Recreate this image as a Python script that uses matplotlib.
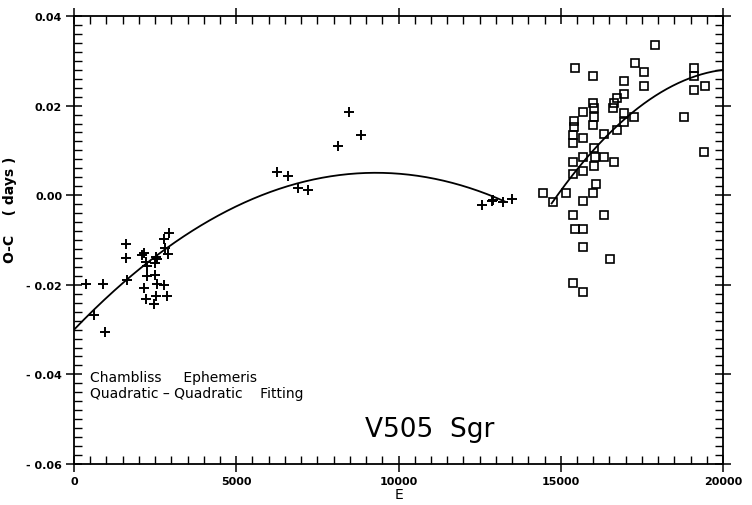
import numpy as np
import matplotlib
matplotlib.use("Agg")
import matplotlib.pyplot as plt
from matplotlib.ticker import MultipleLocator

# ---- data ----
cross_E = [370, 884, 955, 616, 1602, 1602, 1623, 2085, 2157, 2219, 2260, 2240, 2157, 2219,
           2527, 2567, 2506, 2506, 2567, 2527, 2465, 2773, 2918, 2804, 2906, 2783, 2856,
           6266, 6605, 6913, 7221, 8146, 8485, 8844, 12564, 12871, 12923, 13210, 13488]
cross_oc = [-0.0199, -0.0199, -0.0306, -0.0268, -0.0109, -0.0141, -0.0190, -0.0134, -0.0130,
            -0.0149, -0.0158, -0.0180, -0.0208, -0.0232, -0.0137, -0.0143, -0.0152, -0.0179,
            -0.0199, -0.0226, -0.0242, -0.0098, -0.0085, -0.0117, -0.0132, -0.0200, -0.0226,
            0.0052, 0.0042, 0.0017, 0.0012, 0.0110, 0.0185, 0.0134, -0.0022, -0.0013, -0.0010,
            -0.0016, -0.0009]

square_E = [15438, 15982, 17904, 17288, 17575, 19116, 19116, 19116, 19445, 16949, 17575, 16949,
            16723, 16641, 16620, 15982, 16025, 15696, 16025, 16004, 16949, 16949, 17257, 16723,
            16333, 15407, 15407, 15387, 15387, 15696, 16025, 18808, 19414, 15387, 15696, 16055,
            16333, 16641, 16025, 15696, 15387, 16087, 16004, 15162, 14463, 14751, 15675, 15367,
            16343, 15438, 15685, 15685, 16518, 15387, 15685]
square_oc = [0.0283, 0.0265, 0.0335, 0.0294, 0.0276, 0.0285, 0.0265, 0.0235, 0.0244, 0.0255,
             0.0244, 0.0225, 0.0216, 0.0205, 0.0194, 0.0205, 0.0194, 0.0185, 0.0174, 0.0156,
             0.0183, 0.0164, 0.0174, 0.0145, 0.0136, 0.0166, 0.0153, 0.0134, 0.0116, 0.0127,
             0.0106, 0.0174, 0.0097, 0.0075, 0.0086, 0.0086, 0.0086, 0.0075, 0.0065, 0.0054,
             0.0047, 0.0026, 0.0006, 0.0006, 0.0006, -0.0015, -0.0014, -0.0045, -0.0045,
             -0.0076, -0.0076, -0.0115, -0.0143, -0.0195, -0.0216]

# quadratic fits (vertex form: E_vertex, O-C at vertex, curvature), and E ranges
fit1 = (9300, 0.0050, -4.05e-10)
fit1_range = (0, 13300)
fit2 = (20500, 0.0282, -8.99e-10)
fit2_range = (14720, 20000)

xticks = [0, 5000, 10000, 15000, 20000]
xticklabels = ["0", "5000", "10000", "15000", "20000"]
yticks = [-0.06, -0.04, -0.02, 0.00, 0.02, 0.04]
yticklabels = ["- 0.06", "- 0.04", "- 0.02", "0.00", "0.02", "0.04"]

# ---- plot ----
plt.rcParams['font.family'] = ['DejaVu Sans']
fig = plt.figure(figsize=(7.52, 5.06), dpi=100)
ax = fig.add_axes([74/752, 1-465/506, (723-74)/752, (465-17)/506])

for (ev, yv, k), (a, b) in [(fit1, fit1_range), (fit2, fit2_range)]:
    E = np.linspace(a, b, 300)
    ax.plot(E, yv + k*(E-ev)**2, color='black', lw=1.3)

ax.plot(cross_E, cross_oc, linestyle='none', marker='+', ms=7, mew=1.4, color='black')
ax.plot(square_E, square_oc, linestyle='none', marker='s', ms=6, mew=1.2,
        mfc='none', mec='black')

ax.set_xlim(0, 20000)
ax.set_ylim(-0.06, 0.04)
ax.set_xticks(xticks)
ax.set_xticklabels(xticklabels, fontsize=8, fontweight='bold')
ax.set_yticks(yticks)
ax.set_yticklabels(yticklabels, fontsize=8, fontweight='bold')
ax.xaxis.set_minor_locator(MultipleLocator(500))
ax.yaxis.set_minor_locator(MultipleLocator(0.002))
ax.tick_params(which='major', direction='inout', length=11, width=1.1,
               top=True, right=True, pad=3)
ax.tick_params(which='minor', direction='in', length=5.5, width=1.0, top=True, right=True)
for s in ax.spines.values():
    s.set_linewidth(1.3)

ax.set_xlabel("E", fontsize=10, labelpad=1)
ax.set_ylabel("O-C    ( days )", fontsize=10, fontweight='bold')
ax.yaxis.set_label_coords(-0.088, 0.57)

fig.text(90/752, 1-378/506, "Chambliss     Ephemeris", fontsize=10,
         va='center', ha='left')
fig.text(90/752, 1-394/506, "Quadratic \u2013 Quadratic    Fitting", fontsize=10,
         va='center', ha='left')
fig.text(365/752, 1-430/506, "V505  Sgr", fontsize=19,
         va='center', ha='left')

fig.savefig("out.png", dpi=100)
